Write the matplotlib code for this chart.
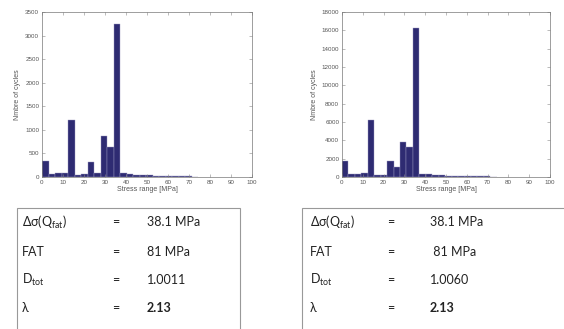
import numpy as np
import matplotlib.pyplot as plt

plt.rcParams['font.family'] = ['Lato', 'DejaVu Sans']
plt.rcParams['mathtext.fontset'] = 'custom'
plt.rcParams['mathtext.rm'] = 'Lato'

bin_width = 3.1
n_left = [340, 70, 90, 90, 1200, 50, 60, 320, 90, 870, 630, 3250,
          90, 60, 40, 40, 40, 25, 30, 20, 20, 20, 15, 10]
n_right = [1700, 350, 350, 400, 6200, 250, 250, 1750, 1100, 3800, 3300, 16300,
           350, 300, 200, 200, 150, 120, 120, 100, 100, 80, 60, 40]
ylim_left = 3500
ylim_right = 18000
yticks_left = np.arange(0, 3501, 500)
yticks_right = np.arange(0, 18001, 2000)

labels = [r'Δσ(Q$_{\mathrm{fat}}$)', 'FAT', r'D$_{\mathrm{tot}}$', 'λ']
values_left = ['38.1 MPa', '81 MPa', '1.0011', '2.13']
values_right = ['38.1 MPa', ' 81 MPa', '1.0060', '2.13']

W, H = 564, 329
fig = plt.figure(figsize=(W / 100, H / 100), dpi=100)

bar_col = '#2e2b72'
grey = '#555555'
axfont = ['Liberation Sans', 'DejaVu Sans']


def hist_panel(rect, counts, ymax, yticks):
    ax = fig.add_axes(rect)
    centers = (np.arange(len(counts)) + 0.5) * bin_width
    ax.bar(centers, counts, width=bin_width, color=bar_col,
           edgecolor='#9a98c0', linewidth=0.3)
    ax.set_xlim(0, 100)
    ax.set_ylim(0, ymax)
    ax.set_xticks(np.arange(0, 101, 10))
    ax.set_yticks(yticks)
    ax.tick_params(direction='in', top=True, right=True, labelsize=4.5,
                   length=2, width=0.4, colors='#888888', labelcolor=grey, pad=2)
    for lab in ax.get_xticklabels() + ax.get_yticklabels():
        lab.set_family(axfont)
    for s in ax.spines.values():
        s.set_linewidth(0.5)
        s.set_color('#777777')
    ax.set_xlabel('Stress range [MPa]', fontsize=5, color=grey, labelpad=1,
                  family=axfont)
    ax.set_ylabel('Nmbre of cycles', fontsize=5, color=grey, labelpad=3,
                  family=axfont)
    return ax


hist_panel([42 / W, 1 - 177 / H, 210 / W, 165 / H], n_left, ylim_left, yticks_left)
hist_panel([342 / W, 1 - 177 / H, 208 / W, 165 / H], n_right, ylim_right, yticks_right)


# result tables
def table(x0, x1, xl, xe, xv, vals):
    box = plt.Rectangle((x0 / W, -0.05), (x1 - x0) / W, 1 - 208 / H + 0.05,
                        transform=fig.transFigure, fill=False,
                        edgecolor='#999999', linewidth=0.8)
    fig.add_artist(box)
    rows_y = [222, 252, 280, 308]
    for i, (lab, val) in enumerate(zip(labels, vals)):
        y = 1 - rows_y[i] / H
        fig.text(xl / W, y, lab, fontsize=9, va='center', color='#222222')
        fig.text(xe / W, y, '=', fontsize=9, va='center', color='#222222')
        fig.text(xv / W, y, val, fontsize=9, va='center', color='#222222',
                 fontweight='bold' if i == 3 else 'normal')


table(17, 240, 22, 112, 147, values_left)
table(302, 580, 310, 387, 430, values_right)

fig.savefig('out.png', dpi=100)
